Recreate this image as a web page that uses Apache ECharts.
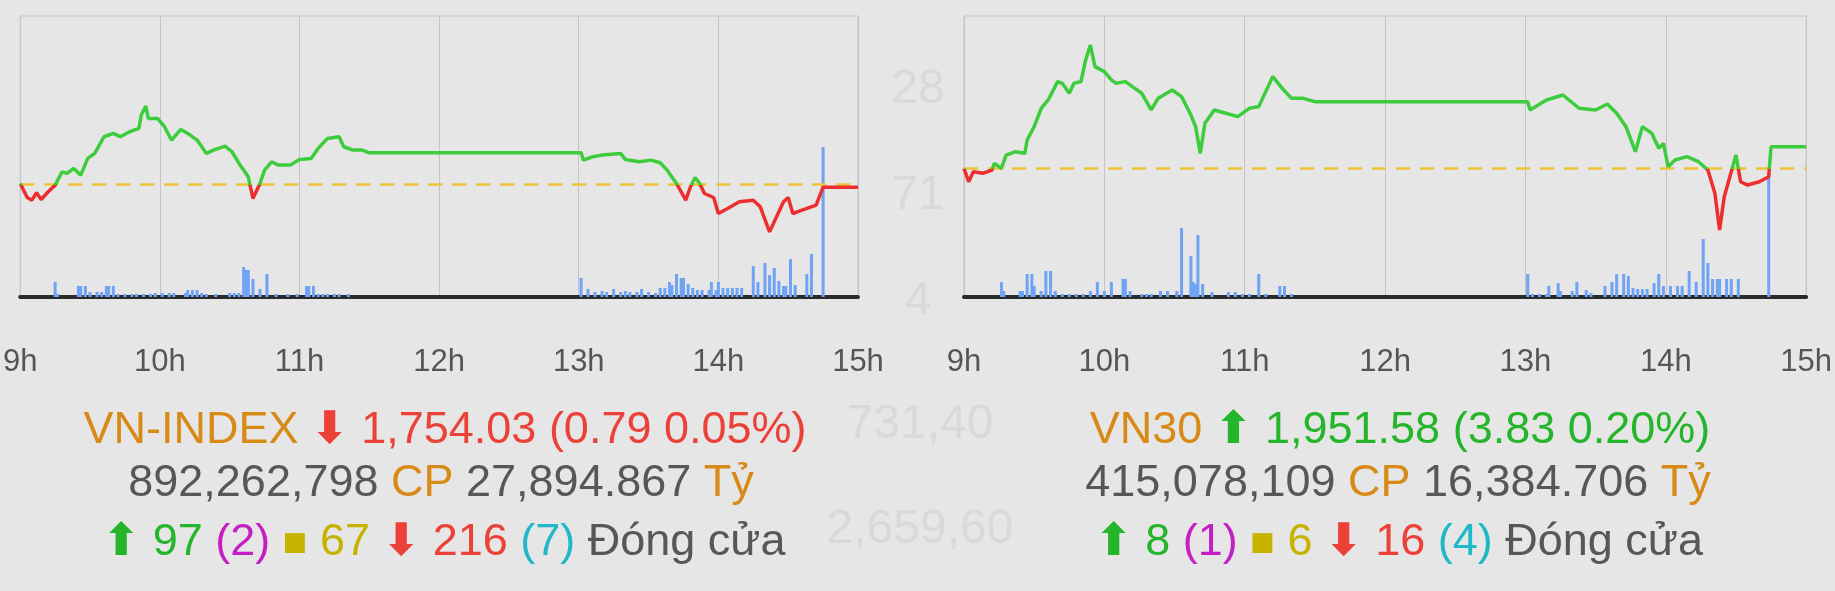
<!DOCTYPE html>
<html lang="en">
<head>
    <meta charset="UTF-8">
    <title>VN-INDEX / VN30</title>
    <script src="https://cdn.jsdelivr.net/npm/echarts@6/dist/echarts.min.js"></script>
    <style>
        html, body { margin: 0; padding: 0; background-color: #e6e6e6; }
        #chart { width: 1835px; height: 591px; }
    </style>
</head>
<body>
    <div id="chart"></div>
    <script>
        // minutes after 9:00
        const hourLabels = ['9h', '10h', '11h', '12h', '13h', '14h', '15h'];

        // VN-INDEX
        const vniRef = 1754.82;
        const vniTime = [0, 3, 5, 7, 9, 12, 15, 18, 20, 23, 26, 29, 32, 36, 40, 43, 47, 51, 52, 54, 55, 59, 62, 65, 69, 72, 76, 80, 83, 88, 91, 94, 98, 100, 103, 105, 108, 111, 116, 120, 125, 128, 132, 137, 139, 143, 147, 150, 241, 242, 246, 250, 258, 260, 266, 271, 275, 278, 282, 286, 288, 290, 292, 294, 298, 300, 304, 309, 315, 318, 322, 325, 328, 330, 332, 336, 342, 345, 360];
        const vniPrice = [1754.99, 1751.35, 1750.66, 1752.57, 1750.83, 1752.83, 1754.56, 1758.03, 1757.59, 1758.90, 1757.16, 1761.50, 1762.80, 1767.13, 1768.00, 1767.13, 1768.43, 1769.30, 1772.77, 1775.11, 1771.90, 1771.90, 1769.73, 1766.26, 1769.04, 1768.00, 1766.26, 1762.80, 1763.66, 1764.70, 1763.23, 1760.20, 1756.73, 1751.09, 1754.99, 1758.46, 1760.63, 1759.76, 1759.76, 1761.24, 1761.50, 1764.10, 1766.70, 1767.13, 1764.53, 1763.66, 1763.66, 1762.97, 1762.97, 1761.06, 1761.93, 1762.36, 1762.80, 1761.24, 1760.63, 1761.06, 1760.37, 1758.46, 1754.99, 1750.66, 1754.13, 1756.55, 1754.99, 1752.39, 1751.35, 1747.19, 1748.49, 1750.23, 1750.66, 1748.92, 1742.42, 1746.32, 1750.23, 1751.35, 1747.19, 1748.06, 1749.36, 1754.03, 1754.03];
        const vniVolTime = [15, 16, 25, 26, 28, 30, 33, 35, 37, 38, 40, 42, 45, 48, 50, 53, 56, 58, 61, 64, 66, 71, 72, 74, 76, 78, 80, 84, 90, 92, 94, 96, 97, 98, 100, 103, 106, 110, 115, 119, 123, 124, 126, 128, 130, 132, 135, 137, 141,
            241, 244, 247, 250, 252, 255, 258, 260, 262, 265, 267, 270, 273, 275, 277, 279, 280, 282, 284, 285, 287, 289, 291, 293, 296, 297, 299, 300, 302, 304, 306, 308, 310, 315, 317, 320, 322, 324, 326, 328, 329, 331, 333, 338, 340, 345];
        const vniVol = [15, 3, 11, 11, 11, 5, 5, 5, 11, 11, 11, 3, 3, 3, 3, 3, 3, 4, 4, 4, 4, 4, 7, 7, 7, 4, 3, 3, 4, 4, 4, 30, 27, 27, 18, 8, 23, 3, 3, 3, 11, 11, 11, 3, 3, 3, 3, 3, 3,
            19, 8, 5, 6, 5, 8, 5, 6, 5, 5, 8, 5, 4, 9, 9, 15, 12, 23, 19, 19, 13, 9, 7, 7, 7, 15, 7, 15, 9, 9, 9, 9, 9, 31, 15, 34, 22, 29, 16, 11, 11, 38, 12, 23, 43, 150];

        // VN30
        const vn30Ref = 1947.75;
        const vn30Time = [0, 2, 4, 8, 12, 13, 16, 18, 22, 26, 27, 30, 33, 36, 40, 42, 45, 47, 50, 52, 54, 56, 60, 63, 65, 69, 73, 76, 80, 83, 89, 93, 97, 99, 101, 103, 107, 112, 117, 122, 126, 128, 132, 136, 140, 145, 150, 241, 242, 249, 256, 263, 270, 275, 279, 283, 287, 290, 294, 297, 299, 301, 304, 309, 314, 318, 321, 323, 325, 327, 330, 332, 335, 340, 344, 345, 360];
        const vn30Price = [1947.75, 1945.39, 1947.16, 1946.87, 1947.46, 1948.64, 1947.75, 1950.11, 1950.70, 1950.41, 1952.77, 1955.13, 1958.37, 1959.85, 1963.09, 1962.80, 1961.03, 1962.80, 1963.09, 1966.93, 1969.58, 1965.75, 1964.86, 1963.39, 1962.80, 1963.09, 1961.91, 1961.03, 1958.08, 1960.14, 1961.62, 1960.44, 1957.19, 1955.13, 1950.41, 1955.72, 1958.08, 1957.49, 1956.90, 1958.37, 1958.67, 1960.44, 1963.98, 1961.91, 1960.14, 1960.14, 1959.55, 1959.55, 1958.08, 1959.85, 1960.73, 1958.37, 1958.08, 1959.14, 1957.49, 1955.13, 1950.70, 1955.13, 1953.95, 1951.29, 1952.18, 1948.05, 1949.23, 1949.82, 1948.93, 1947.46, 1943.33, 1936.84, 1942.74, 1945.69, 1950.11, 1945.39, 1944.80, 1945.39, 1946.28, 1951.58, 1951.58];
        const vn30VolTime = [16, 17, 24, 25, 27, 29, 30, 33, 35, 37, 39, 42, 45, 48, 51, 54, 57, 60, 63, 68, 69, 71, 76, 78, 80, 84, 87, 91, 93, 97, 98, 99, 100, 102, 106, 113, 116, 119, 122, 126, 129, 135, 137, 140,
            241, 243, 246, 249, 250, 254, 255, 260, 262, 266, 268, 274, 277, 279, 282, 284, 286, 288, 290, 292, 295, 297, 299, 302, 305, 307, 310, 313, 316, 318, 320, 322, 323, 326, 328, 331, 344];
        const vn30Vol = [15, 6, 6, 6, 23, 23, 11, 6, 26, 26, 6, 3, 3, 3, 3, 6, 15, 6, 15, 18, 18, 6, 3, 3, 3, 6, 6, 6, 69, 41, 15, 13, 62, 13, 5, 5, 5, 3, 3, 23, 3, 11, 11, 3,
            23, 3, 3, 3, 11, 14, 6, 6, 15, 7, 4, 11, 15, 23, 23, 21, 9, 8, 8, 8, 14, 23, 11, 11, 11, 11, 26, 15, 58, 34, 18, 18, 18, 18, 18, 18, 123];

        const chart = echarts.init(document.getElementById('chart'));
        const font = "'Liberation Sans', Arial, sans-serif";
        const upColor = '#3ccc3c', downColor = '#ec2e2e';

        function xAxisFor(gridIndex) {
            return {
                type: 'value', gridIndex: gridIndex, min: 0, max: 360, interval: 60,
                axisLine: { show: true, lineStyle: { color: '#2a2a2a', width: 4 } },
                axisTick: { show: false },
                splitLine: { show: true, lineStyle: { color: '#c4c4c4', width: 1 } },
                axisLabel: {
                    margin: 50, color: '#555', fontSize: 31, fontFamily: font,
                    formatter: v => hourLabels[v / 60]
                }
            };
        }
        function priceAxis(gridIndex, min, max) {
            return { type: 'value', gridIndex: gridIndex, min: min, max: max, show: false, splitLine: { show: false } };
        }
        function volAxis(gridIndex) {
            return { type: 'value', gridIndex: gridIndex, min: 0, max: 281, show: false, splitLine: { show: false } };
        }
        // green above the reference, red below: hard stop inside the line's own bounding box
        function splitGradient(prices, ref) {
            const hi = Math.max(...prices), lo = Math.min(...prices);
            const f = Math.min(1, Math.max(0, (hi - ref) / (hi - lo)));
            return {
                type: 'linear', x: 0, y: 0, x2: 0, y2: 1,
                colorStops: [
                    { offset: 0, color: upColor }, { offset: f, color: upColor },
                    { offset: f, color: downColor }, { offset: 1, color: downColor }
                ]
            };
        }
        function priceSeries(xi, yi, times, prices, ref) {
            return {
                type: 'line', xAxisIndex: xi, yAxisIndex: yi, z: 5,
                data: times.map((t, i) => [t, prices[i]]),
                showSymbol: false,
                lineStyle: { width: 3.5, color: splitGradient(prices, ref) },
                markLine: {
                    silent: true, symbol: 'none', label: { show: false },
                    lineStyle: { color: '#f2c332', type: [14, 10], width: 2.5 },
                    data: [{ yAxis: ref }]
                }
            };
        }
        function volSeries(xi, yi, times, vols) {
            return {
                type: 'bar', xAxisIndex: xi, yAxisIndex: yi, barWidth: 3, z: 3,
                itemStyle: { color: '#6fa3f5' },
                data: times.map((t, i) => [t, vols[i]])
            };
        }
        function rich(x, y, parts) {
            const richStyles = {};
            let text = '';
            parts.forEach((p, i) => {
                richStyles['p' + i] = { fill: p[1], font: (p[2] || '') + ' ' + (p[4] || 45) + 'px ' + (p[3] || font) };
                text += '{p' + i + '|' + p[0] + '}';
            });
            return { type: 'text', x: x, y: y, style: { text: text, rich: richStyles, align: 'center', verticalAlign: 'middle' } };
        }
        const orange = '#d88a16', red = '#ec4138', green = '#24b52a', grey = '#575757';
        const magenta = '#c41fc4', cyan = '#1fb8c6', yellow = '#c6b300';
        const faint = '#d9d9d9';
        const arrowFont = "'DejaVu Sans', sans-serif";
        function faintText(text, x, y) {
            return { type: 'text', x: x, y: y, z: -1, style: { text: text, font: '48px ' + font, fill: faint, align: 'center', verticalAlign: 'middle' } };
        }

        chart.setOption({
            backgroundColor: '#e6e6e6',
            animation: false,
            grid: [
                { left: 10, right: 977, top: 16, height: 281, show: true, borderColor: '#c4c4c4', backgroundColor: 'transparent' },
                { left: 964, right: 23, top: 16, height: 281, show: true, borderColor: '#c4c4c4', backgroundColor: 'transparent' }
            ],
            xAxis: [xAxisFor(0), xAxisFor(1)],
            yAxis: [priceAxis(0, 1725.5, 1798.5), volAxis(0), priceAxis(1, 1925.0, 1974.7), volAxis(1)],
            series: [
                priceSeries(0, 0, vniTime, vniPrice, vniRef),
                volSeries(0, 1, vniVolTime, vniVol),
                priceSeries(1, 2, vn30Time, vn30Price, vn30Ref),
                volSeries(1, 3, vn30VolTime, vn30Vol)
            ],
            graphic: [
                faintText('28', 918, 90),
                faintText('71', 918, 196),
                faintText('4', 918, 302),
                faintText('731,40', 920, 425),
                faintText('2,659,60', 920, 530),
                rich(445, 431, [['VN-INDEX ', orange], ['⬇', red, 'bold', arrowFont], [' 1,754.03 (0.79 0.05%)', red]]),
                rich(441, 484, [['892,262,798 ', grey], ['CP ', orange], ['27,894.867 ', grey], ['Tỷ', orange]]),
                rich(444, 543, [['⬆', green, 'bold', arrowFont], [' 97 ', green], ['(2) ', magenta], ['■', yellow, '', arrowFont, 26], [' 67 ', yellow], ['⬇', red, 'bold', arrowFont], [' 216 ', red], ['(7) ', cyan], ['Đóng cửa', grey]]),
                rich(1400, 431, [['VN30 ', orange], ['⬆', green, 'bold', arrowFont], [' 1,951.58 (3.83 0.20%)', green]]),
                rich(1398, 484, [['415,078,109 ', grey], ['CP ', orange], ['16,384.706 ', grey], ['Tỷ', orange]]),
                rich(1399, 543, [['⬆', green, 'bold', arrowFont], [' 8 ', green], ['(1) ', magenta], ['■', yellow, '', arrowFont, 26], [' 6 ', yellow], ['⬇', red, 'bold', arrowFont], [' 16 ', red], ['(4) ', cyan], ['Đóng cửa', grey]])
            ]
        });
    </script>
</body>
</html>
